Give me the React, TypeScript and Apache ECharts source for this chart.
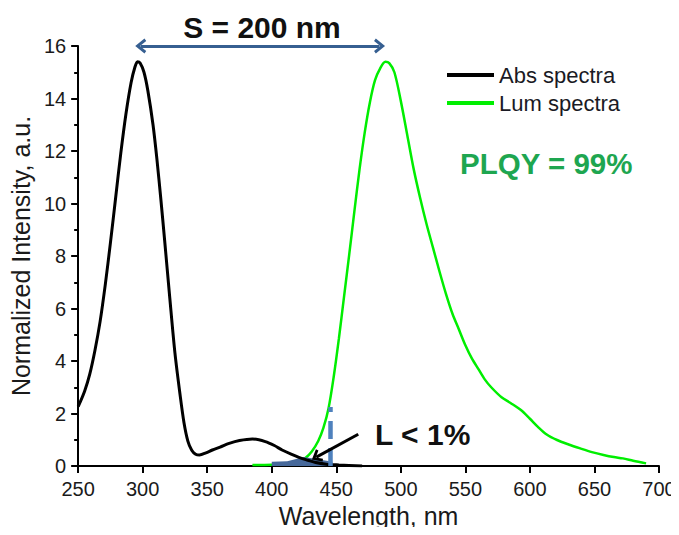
import React, { useEffect, useRef } from "react";
import * as echarts from "echarts";

const absWavelength = [250, 255, 259, 263, 267, 271, 275, 279, 283, 287, 291, 294, 296, 298, 301, 304, 308, 311, 314, 317, 321, 325, 329, 332, 335, 338, 341, 344, 349, 354, 360, 367, 375, 385, 395, 402, 408, 415, 421, 428, 434, 442, 452, 470];
const absValues = [2.26, 2.85, 3.5, 4.4, 5.5, 6.9, 8.5, 10.2, 11.9, 13.4, 14.6, 15.2, 15.4, 15.35, 15.0, 14.3, 13.0, 11.7, 10.2, 8.6, 6.4, 4.3, 2.7, 1.65, 0.95, 0.6, 0.45, 0.42, 0.5, 0.61, 0.72, 0.86, 0.97, 1.03, 0.93, 0.78, 0.61, 0.45, 0.33, 0.22, 0.13, 0.07, 0.04, 0.0];

const lumWavelength = [385, 400, 412, 420, 426, 431, 436, 440, 444, 448, 452, 456, 460, 464, 468, 472, 476, 480, 484, 488, 491, 495, 500, 505, 510, 515, 520, 525, 530, 535, 540, 545, 550, 555, 560, 565, 570, 578, 585, 593, 600, 606, 613, 621, 630, 639, 648, 657, 665, 672, 680, 690];
const lumValues = [0.04, 0.05, 0.08, 0.16, 0.3, 0.55, 0.95, 1.45, 2.2, 3.4, 4.85, 6.45, 8.05, 9.7, 11.3, 12.7, 13.85, 14.7, 15.15, 15.4, 15.35, 15.0, 13.9, 12.6, 11.3, 10.2, 9.2, 8.3, 7.4, 6.55, 5.8, 5.2, 4.6, 4.1, 3.7, 3.3, 3.0, 2.62, 2.4, 2.13, 1.8, 1.5, 1.2, 0.99, 0.82, 0.67, 0.53, 0.42, 0.34, 0.29, 0.2, 0.1];

const overlapWavelength = [400, 412, 425, 447];
const overlapValues = [0.16, 0.18, 0.34, 0.16];

const xTicks = { min: 250, max: 700, interval: 50 };
const yTicks = { min: 0, max: 16, interval: 2 };

const stokesArrow = { from: [298.5, 16], to: [483.5, 16] };
const cutoffLine = { x: 445, top: 2.25 };
const lossArrow = { from: [467, 1.21], to: [434.5, 0.34] };

const seriesNames = ["Abs spectra", "Lum spectra"];

const FONT = "'Liberation Sans', Arial, Helvetica, sans-serif";
const chevron = "path://M5,0 L10,6.2 L8.4,7.4 L5,3.2 L1.6,7.4 L0,6.2 Z";

export default function App() {
  const ref = useRef<HTMLDivElement>(null);
  useEffect(() => {
    if (!ref.current) return;
    const chart = echarts.init(ref.current, undefined, { renderer: "svg" });
    const zip = (xs: number[], ys: number[]) => xs.map((x, i) => [x, ys[i]]);
    chart.setOption({
      animation: false,
      backgroundColor: "#ffffff",
      textStyle: { fontFamily: FONT },
      grid: { left: 75, right: 20, top: 46, bottom: 69, containLabel: false },
      legend: {
        data: seriesNames,
        orient: "vertical",
        left: 442,
        top: 59,
        itemWidth: 47,
        itemHeight: 4,
        itemGap: 6,
        icon: "rect",
        textStyle: { fontSize: 22, color: "#1a1a24", fontFamily: FONT, lineHeight: 22 },
        selectedMode: false,
      },
      xAxis: {
        type: "value",
        min: xTicks.min,
        max: xTicks.max,
        interval: xTicks.interval,
        name: "Wavelength, nm",
        nameLocation: "middle",
        nameGap: 36,
        nameTextStyle: { fontSize: 25, color: "#1a1a1a", fontFamily: FONT },
        axisLine: { show: true, onZero: false, lineStyle: { color: "#000", width: 2 } },
        axisTick: { show: true, length: 7, lineStyle: { color: "#000", width: 2 } },
        axisLabel: { fontSize: 20, color: "#1a1a1a", margin: 13, fontFamily: FONT },
        splitLine: { show: false },
      },
      yAxis: {
        type: "value",
        min: yTicks.min,
        max: yTicks.max,
        interval: yTicks.interval,
        name: "Normalized Intensity, a.u.",
        nameLocation: "middle",
        nameGap: 44,
        nameTextStyle: { fontSize: 25, color: "#1a1a1a", fontFamily: FONT },
        axisLine: { show: true, onZero: false, lineStyle: { color: "#000", width: 2 } },
        axisTick: { show: true, length: 7, lineStyle: { color: "#000", width: 2 } },
        minorTick: { show: true, splitNumber: 2, length: 4, lineStyle: { color: "#000", width: 2 } },
        axisLabel: { fontSize: 20, color: "#1a1a1a", margin: 12, fontFamily: FONT },
        splitLine: { show: false },
      },
      series: [
        {
          name: "overlap",
          type: "line",
          data: zip(overlapWavelength, overlapValues),
          showSymbol: false,
          symbol: "none",
          lineStyle: { width: 0 },
          areaStyle: { color: "#46689a", opacity: 1, origin: "start" },
          color: "#46689a",
          silent: true,
          clip: false,
          z: 3,
          markLine: {
            silent: true,
            animation: false,
            label: { show: false },
            emphasis: { disabled: true },
            data: [
              [
                { coord: stokesArrow.from, symbol: chevron, symbolSize: [15, 11], lineStyle: { color: "#365f91", width: 3, type: "solid" } },
                { coord: stokesArrow.to, symbol: chevron, symbolSize: [15, 11] },
              ],
              [
                { coord: [cutoffLine.x, 0], symbol: "none", lineStyle: { color: "#4f81bd", width: 4.5, type: [18, 9] } },
                { coord: [cutoffLine.x, cutoffLine.top], symbol: "none" },
              ],
              [
                { coord: lossArrow.from, symbol: "none", lineStyle: { color: "#000", width: 3, type: "solid" } },
                { coord: lossArrow.to, symbol: chevron, symbolSize: [14, 10] },
              ],
            ],
          },
        },
        {
          name: "Abs spectra",
          type: "line",
          data: zip(absWavelength, absValues),
          showSymbol: false,
          symbol: "none",
          smooth: 0.3,
          color: "#000000",
          lineStyle: { color: "#000000", width: 3 },
          z: 4,
        },
        {
          name: "Lum spectra",
          type: "line",
          data: zip(lumWavelength, lumValues),
          showSymbol: false,
          symbol: "none",
          smooth: 0.3,
          color: "#00ee00",
          lineStyle: { color: "#00ee00", width: 2.5 },
          z: 2,
        },
      ],
      graphic: [
        {
          type: "text",
          x: 262,
          y: 27,
          style: { text: "S = 200 nm", font: `bold 30px ${FONT}`, fill: "#111", textAlign: "center", textVerticalAlign: "middle" },
        },
        {
          type: "text",
          x: 460,
          y: 163,
          style: { text: "PLQY = 99%", font: `bold 29.5px ${FONT}`, fill: "#1ea650", textAlign: "left", textVerticalAlign: "middle" },
        },
        {
          type: "text",
          x: 375,
          y: 434,
          style: { text: "L < 1%", font: `bold 30px ${FONT}`, fill: "#111", textAlign: "left", textVerticalAlign: "middle" },
        },
      ],
    });
    return () => chart.dispose();
  }, []);
  return <div ref={ref} style={{ width: 679, height: 535, margin: -8 }} />;
}
